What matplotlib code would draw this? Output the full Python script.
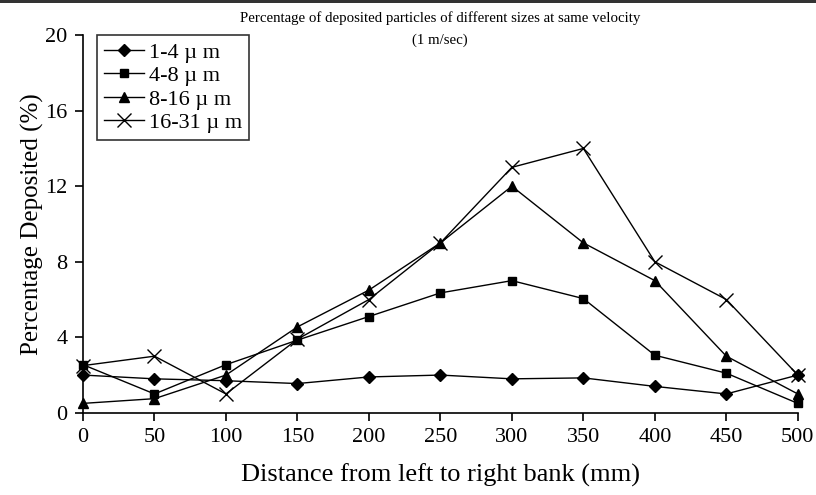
import matplotlib.pyplot as plt
from matplotlib.patches import Rectangle

plt.rcParams['font.family'] = ['Liberation Serif', 'DejaVu Serif']

distance = [0, 50, 100, 150, 200, 250, 300, 350, 400, 450, 500]
size_1_4 = [2.0, 1.8, 1.7, 1.55, 1.9, 2.0, 1.8, 1.85, 1.4, 1.0, 2.0]
size_4_8 = [2.55, 1.0, 2.55, 3.85, 5.1, 6.35, 7.0, 6.05, 3.05, 2.1, 0.5]
size_8_16 = [0.5, 0.75, 2.0, 4.55, 6.5, 9.0, 12.0, 9.0, 7.0, 3.0, 1.0]
size_16_31 = [2.5, 3.0, 1.0, 3.9, 6.0, 9.0, 13.0, 14.0, 8.0, 6.0, 2.0]

series = [
    (size_1_4, 'D', 6, '1-4 \u00b5 m'),
    (size_4_8, 's', 6, '4-8 \u00b5 m'),
    (size_8_16, '^', 7, '8-16 \u00b5 m'),
    (size_16_31, 'x', 10, '16-31 \u00b5 m'),
]

fig = plt.figure(figsize=(8.16, 4.95), dpi=100)
ax = fig.add_axes([0.1017, 0.166, 0.876, 0.763])

for values, marker, ms, label in series:
    ax.plot(distance, values, color='black', lw=1.0, marker=marker,
            markersize=ms, markeredgewidth=1.0, clip_on=False, label=label)

ax.set_xlim(0, 500)
ax.set_ylim(0, 20)
ax.set_xticks(distance)
ax.set_yticks([0, 4, 8, 12, 16, 20])
ax.tick_params(direction='out', length=6, width=1.2, labelsize=16, pad=5)
for side in ('top', 'right'):
    ax.spines[side].set_visible(False)
for side in ('left', 'bottom'):
    ax.spines[side].set_linewidth(1.2)

ax.set_xlabel('Distance from left to right bank (mm)', fontsize=19, labelpad=12)
ax.set_ylabel('Percentage Deposited (%)', fontsize=18, labelpad=1)

fig.text(0.539, 0.963, 'Percentage of deposited particles of different sizes at same velocity',
         ha='center', va='center', fontsize=10.7)
fig.text(0.539, 0.918, '(1 m/sec)', ha='center', va='center', fontsize=10.7)

leg = ax.legend(loc='upper left', bbox_to_anchor=(0.019, 1.0), fontsize=16,
                frameon=True, fancybox=False, handlelength=1.8, handletextpad=0.25,
                labelspacing=0.13, borderpad=0.32, borderaxespad=0)
leg.get_frame().set_edgecolor('black')
leg.get_frame().set_linewidth(1.2)

# thin dark strip along the top edge
fig.add_artist(Rectangle((0, 0.994), 1, 0.006, transform=fig.transFigure,
                         color='#333333', lw=0))

fig.savefig('out.png', dpi=100)
